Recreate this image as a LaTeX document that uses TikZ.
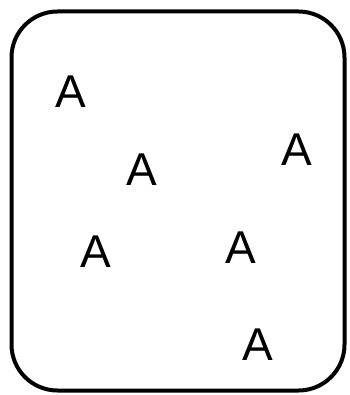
\documentclass[tikz,border=0pt]{standalone}
\usepackage{fontspec}
\setmainfont{Liberation Sans}
\begin{document}
\begin{tikzpicture}[x=1pt,y=-1pt,
  letter/.style={inner sep=0pt,font=\fontsize{46}{46}\selectfont}]
\useasboundingbox (0,0) rectangle (349,395);
\draw[line width=4pt,rounded corners=46pt] (11.5,11.5) rectangle (344.5,390.5);
\node[letter] (a1) at (71,92) {A};
\node[letter] (a2) at (142,170) {A};
\node[letter] (a3) at (297,150) {A};
\node[letter] (a4) at (96,252) {A};
\node[letter] (a5) at (241,248) {A};
\node[letter] (a6) at (258,345) {A};
\end{tikzpicture}
\end{document}
